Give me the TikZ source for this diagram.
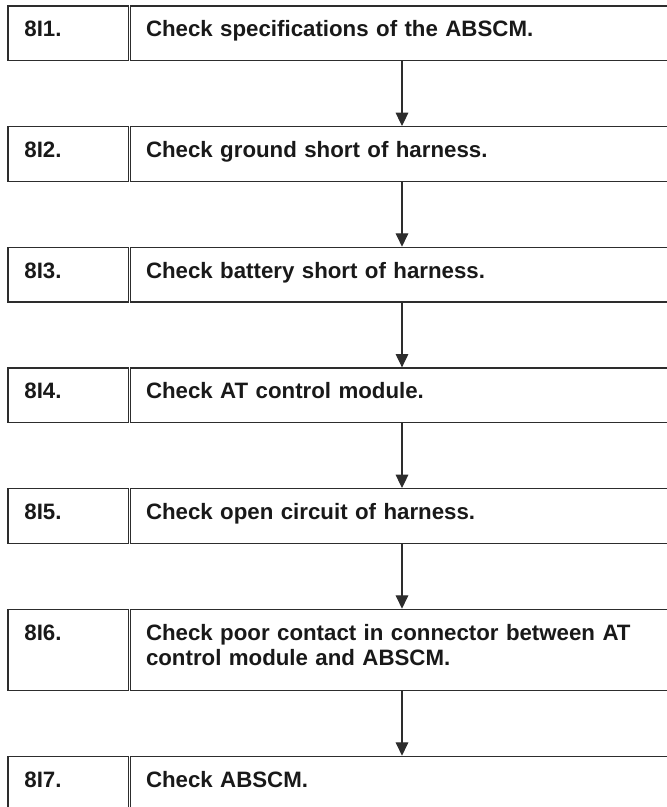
\documentclass[tikz,border=0pt]{standalone}
\usepackage{fontspec}
\setmainfont{Liberation Sans}
\usetikzlibrary{positioning,arrows.meta}
\definecolor{boxline}{RGB}{45, 45, 45}
\definecolor{steptext}{RGB}{25, 25, 25}

\begin{document}
\begin{tikzpicture}[
    node distance=48.5pt,
    numcell/.style={draw=boxline, line width=1pt, minimum width=90.2pt, minimum height=41pt, inner sep=0pt},
    txtcell/.style={draw=boxline, line width=1pt, minimum width=407.6pt, minimum height=41pt, inner sep=0pt},
    celltext/.style={anchor=base west, inner sep=0pt, text width=#1, align=left, text=steptext,
        font=\fontsize{16.7}{19.3}\selectfont\bfseries},
    celltext/.default=390pt,
    flow/.style={draw=boxline, line width=0.8pt, -{Triangle[width=9.5pt, length=10pt]}}
]
    % Page frame (the right side of the boxes runs off the page)
    \useasboundingbox (0, 0) rectangle (500.25pt, -605.25pt);
    \clip (0, 0) rectangle (500.25pt, -605.25pt);

    % Step cells: number cell and text cell side by side
    \node[numcell, anchor=north west] (c1) at (5.5pt, -4pt) {};
    \node[txtcell, right=0.5pt of c1] (t1) {};
    \node[numcell, below=of c1] (c2) {};
    \node[txtcell, right=0.5pt of c2] (t2) {};
    \node[numcell, below=of c2] (c3) {};
    \node[txtcell, right=0.5pt of c3] (t3) {};
    \node[numcell, below=of c3] (c4) {};
    \node[txtcell, right=0.5pt of c4] (t4) {};
    \node[numcell, below=of c4] (c5) {};
    \node[txtcell, right=0.5pt of c5] (t5) {};
    \node[numcell, below=of c5, minimum height=60.75pt] (c6) {};
    \node[txtcell, right=0.5pt of c6, minimum height=60.75pt] (t6) {};
    \node[numcell, below=of c6] (c7) {};
    \node[txtcell, right=0.5pt of c7] (t7) {};

    % Step numbers
    \node[celltext=60pt] (n1) at ([shift={(12.6pt, -23.6pt)}]c1.north west) {8I1.};
    \node[celltext=60pt] (n2) at ([shift={(12.6pt, -23.6pt)}]c2.north west) {8I2.};
    \node[celltext=60pt] (n3) at ([shift={(12.6pt, -23.6pt)}]c3.north west) {8I3.};
    \node[celltext=60pt] (n4) at ([shift={(12.6pt, -23.6pt)}]c4.north west) {8I4.};
    \node[celltext=60pt] (n5) at ([shift={(12.6pt, -23.6pt)}]c5.north west) {8I5.};
    \node[celltext=60pt] (n6) at ([shift={(12.6pt, -23.6pt)}]c6.north west) {8I6.};
    \node[celltext=60pt] (n7) at ([shift={(12.6pt, -23.6pt)}]c7.north west) {8I7.};

    % Step texts
    \node[celltext] (s1) at ([shift={(12.1pt, -23.6pt)}]t1.north west) {Check specifications of the ABSCM.};
    \node[celltext] (s2) at ([shift={(12.1pt, -23.6pt)}]t2.north west) {Check ground short of harness.};
    \node[celltext] (s3) at ([shift={(12.1pt, -23.6pt)}]t3.north west) {Check battery short of harness.};
    \node[celltext] (s4) at ([shift={(12.1pt, -23.6pt)}]t4.north west) {Check AT control module.};
    \node[celltext] (s5) at ([shift={(12.1pt, -23.6pt)}]t5.north west) {Check open circuit of harness.};
    \node[celltext] (s6) at ([shift={(12.1pt, -23.6pt)}]t6.north west) {Check poor contact in connector between AT\\control module and ABSCM.};
    \node[celltext] (s7) at ([shift={(12.1pt, -23.6pt)}]t7.north west) {Check ABSCM.};

    % Flow arrows
    \draw[flow] (t1.south) -- (t2.north);
    \draw[flow] (t2.south) -- (t3.north);
    \draw[flow] (t3.south) -- (t4.north);
    \draw[flow] (t4.south) -- (t5.north);
    \draw[flow] (t5.south) -- (t6.north);
    \draw[flow] (t6.south) -- (t7.north);
\end{tikzpicture}
\end{document}
